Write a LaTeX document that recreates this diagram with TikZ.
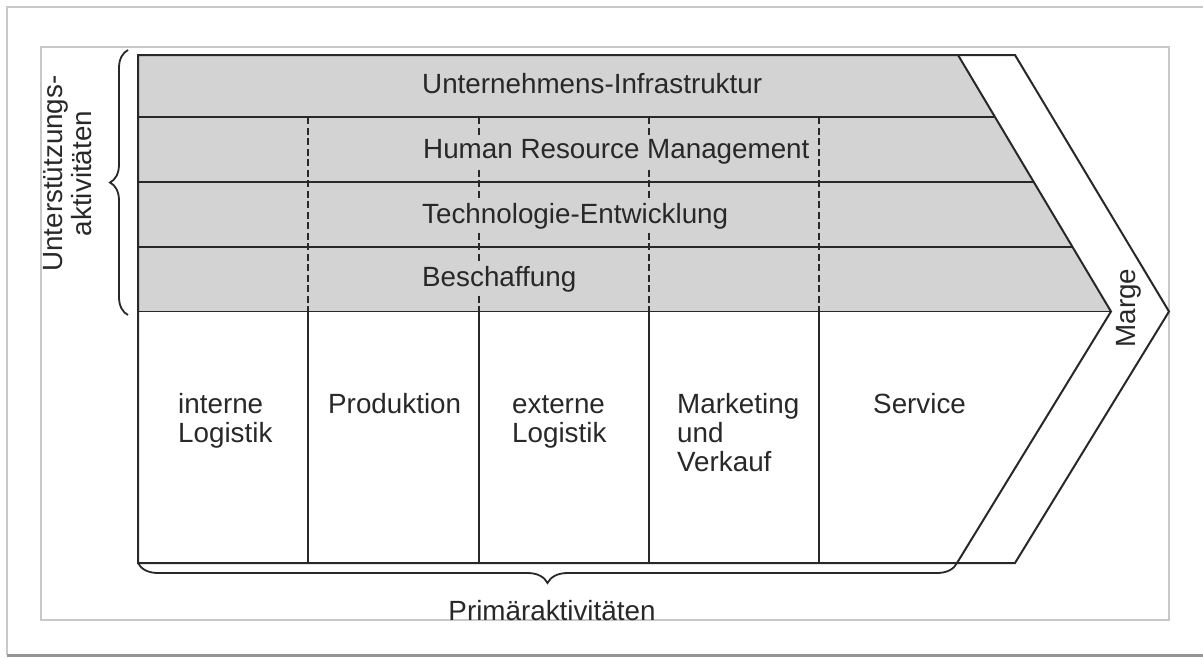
\documentclass[tikz,border=0pt]{standalone}
\usepackage{fontspec}
\setmainfont{Liberation Sans}
\usetikzlibrary{calc,decorations.pathreplacing}
\definecolor{supportgray}{RGB}{211,211,211}
\definecolor{ink}{RGB}{40,40,40}
\definecolor{framegray}{RGB}{200,200,200}
\definecolor{shadowgray}{RGB}{150,150,150}
\begin{document}
\begin{tikzpicture}[x=1pt,y=-1pt,
  every node/.style={inner sep=0pt, font=\fontsize{27.8}{29}\selectfont, text=ink},
  outline/.style={draw=ink, line width=2pt, line join=miter},
  rowlabel/.style={anchor=base west, fill=supportgray, inner sep=4pt},
  collabel/.style={anchor=base west},
  sep/.style={draw=ink, line width=1.6pt},
  dashsep/.style={draw=ink, line width=1.6pt, dash pattern=on 7pt off 3.5pt},
  bracket/.style={draw=ink, line width=1.8pt, decorate},
  box/.style={draw=framegray, line width=1.2pt}]
\useasboundingbox (0,0) rectangle (1203,657);

% page frame with shadow, and inner frame
\draw[box] (7,655) -- (7,7) -- (1210,7);
\draw[draw=shadowgray, line width=2.5pt] (7,655.5) -- (1210,655.5);
\draw[box] (41,47) rectangle (1169,620);

% corner points of the value chain
\coordinate (TL) at (138,55);
\coordinate (TR) at (958,55);
\coordinate (TIP) at (1111,311.5);
\coordinate (BR) at (957,563);
\coordinate (BL) at (138,563);
\coordinate (ML) at (138,311.5);
\coordinate (OT) at (1015,55);
\coordinate (OTIP) at (1169,311.5);
\coordinate (OB) at (1015,563);

% support activities area
\fill[supportgray] (TL) -- (TR) -- (TIP) -- (ML) -- cycle;

% dashed column separators in the lower support rows
\foreach \cx in {308,479,649,819}
  \draw[dashsep] (\cx,117) -- (\cx,311.5);

% support activity labels
\node[rowlabel] (infra) at (418,93) {Unternehmens-Infrastruktur};
\node[rowlabel] (hrm) at (419,158) {Human Resource Management};
\node[rowlabel] (tech) at (418,223) {Technologie-Entwicklung};
\node[rowlabel] (proc) at (418,286) {Beschaffung};

% row separators, ending on the slanted edge
\foreach \ry in {117,182,247,311.5}
  \draw[sep] (138,\ry) -- ($(TR)!{(\ry-55)/256.5}!(TIP)$);

% primary activity columns
\foreach \cx in {308,479,649,819}
  \draw[sep] (\cx,311.5) -- (\cx,563);

% outline and margin chevron
\draw[outline] (TL) -- (TR) -- (TIP) -- (BR) -- (BL) -- cycle;
\draw[outline] (TR) -- (OT) -- (OTIP) -- (OB) -- (BR);

% braces
\draw[bracket, decoration={brace, amplitude=18pt}] (128,315) -- (128,50);
\draw[bracket, decoration={brace, amplitude=20pt}] (BR) -- (BL);

% primary activity labels
\node[collabel] (inlog) at (178,413) {\begin{tabular}[t]{@{}l@{}}interne\\Logistik\end{tabular}};
\node[collabel] (prod) at (328,413) {Produktion};
\node[collabel] (exlog) at (512,413) {\begin{tabular}[t]{@{}l@{}}externe\\Logistik\end{tabular}};
\node[collabel] (mkt) at (677,413) {\begin{tabular}[t]{@{}l@{}}Marketing\\und\\Verkauf\end{tabular}};
\node[collabel] (serv) at (873,413) {Service};

% group labels
\node[rotate=90, anchor=base] (support) at (62,173.5) {\begin{tabular}[t]{@{}c@{}}Unterstützungs-\\aktivitäten\end{tabular}};
\node[rotate=90, anchor=base] (margin) at (1135,308) {Marge};
\node[anchor=base] (primary) at (552,620) {Primäraktivitäten};
\end{tikzpicture}
\end{document}
